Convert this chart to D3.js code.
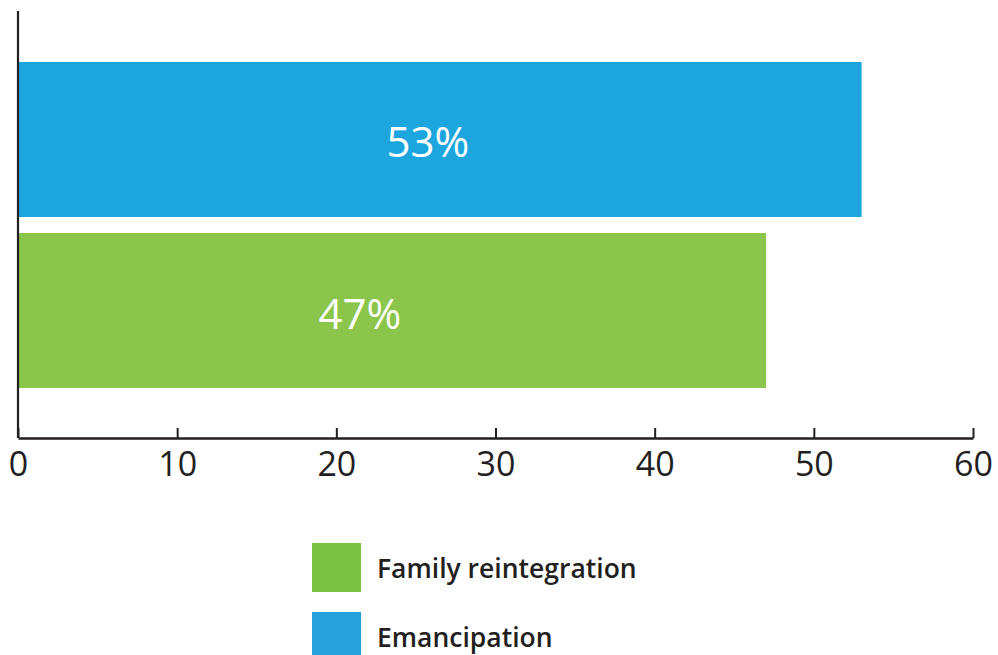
<!DOCTYPE html>
<html>
<head>
<meta charset="utf-8">
<script src="https://cdn.jsdelivr.net/npm/d3@7"></script>
<style>
  html, body { margin: 0; padding: 0; background: #fff; }
  svg { display: block; }
  text { font-family: "Open Sans", "Noto Sans", sans-serif; }
</style>
</head>
<body>
<div id="chart"></div>
<script>
// ---- data ----
const categories = ["Emancipation", "Family reintegration"];
const values = [53, 47];
const valueLabels = ["53%", "47%"];
const barColors = ["#1da6de", "#8bc54b"];
const xTicks = [0, 10, 20, 30, 40, 50, 60];
const legendLabels = ["Family reintegration", "Emancipation"];
const legendColors = ["#7bc143", "#26a1db"];

// ---- layout ----
const W = 998, H = 655;
const svg = d3.select("#chart").append("svg").attr("width", W).attr("height", H);

const x = d3.scaleLinear().domain([0, 60]).range([18, 973]);
const y = d3.scaleBand().domain(categories).range([62, 388]).paddingInner(0.0936).paddingOuter(0);
const axisY = 438;
const ink = "#231f20";

// bars
svg.selectAll("rect.bar")
  .data(categories)
  .join("rect")
  .attr("class", "bar")
  .attr("x", x(0))
  .attr("y", d => y(d))
  .attr("width", (d, i) => x(values[i]) - x(0))
  .attr("height", y.bandwidth())
  .attr("fill", (d, i) => barColors[i]);

// value labels (placed at a fraction of the bar length)
const labelFrac = [0.486, 0.457];
svg.selectAll("text.vlabel")
  .data(categories)
  .join("text")
  .attr("class", "vlabel")
  .attr("x", (d, i) => x(values[i] * labelFrac[i]))
  .attr("y", d => y(d) + y.bandwidth() / 2 + 18)
  .attr("text-anchor", "middle")
  .attr("fill", "#fff")
  .attr("font-size", 42)
  .text((d, i) => valueLabels[i]);

// left axis line
svg.append("line")
  .attr("x1", x(0)).attr("x2", x(0))
  .attr("y1", 11).attr("y2", axisY)
  .attr("stroke", ink).attr("stroke-width", 2.2);

// bottom axis
const xAxis = d3.axisBottom(x)
  .tickValues(xTicks)
  .tickSizeInner(-10)
  .tickSizeOuter(0)
  .tickPadding(14)
  .tickFormat(d3.format("d"));

const gx = svg.append("g")
  .attr("transform", `translate(0,${axisY})`)
  .call(xAxis);
gx.select(".domain").attr("stroke", ink).attr("stroke-width", 2.5);
gx.selectAll(".tick line").attr("stroke", ink).attr("stroke-width", 2);
gx.selectAll(".tick text")
  .attr("fill", ink)
  .attr("font-size", 34)
  .attr("font-family", "'Open Sans', sans-serif");

// legend
const legend = svg.append("g");
const legY = [543, 612];
legend.selectAll("rect")
  .data(legendLabels)
  .join("rect")
  .attr("x", 312)
  .attr("y", (d, i) => legY[i])
  .attr("width", 49)
  .attr("height", 49)
  .attr("fill", (d, i) => legendColors[i]);
legend.selectAll("text")
  .data(legendLabels)
  .join("text")
  .attr("x", 377)
  .attr("y", (d, i) => legY[i] + 35)
  .attr("fill", ink)
  .attr("font-size", 26.5)
  .attr("font-weight", 600)
  .text(d => d);
</script>
</body>
</html>
